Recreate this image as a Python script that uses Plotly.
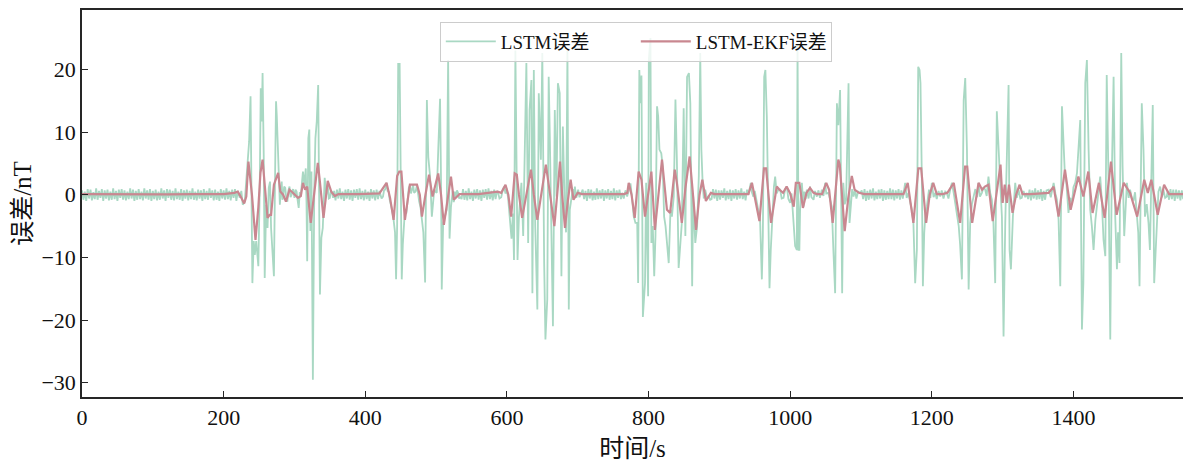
import numpy as np
import plotly.graph_objects as go

# ---------------- data ----------------
# quiet stretches of the LSTM error: start time (s) and values sampled every 2 s
flat_starts = [0, 356, 536, 707, 889, 1101, 1336, 1533]
flat_step = 2
flat_0 = [0.7, -0.8, 0.5, -1.0, 0.9, -0.6, 0.8, -0.9, 0.4, -0.7, 1.0, -0.8, 0.6, -0.5, 0.9, -1.0,
          0.7, -0.6, 0.8, -0.9, 0.5, -0.8, 1.0, -0.7, 0.6, -1.0, 0.8, -0.5, 0.9, -0.8, 0.7, -0.9,
          0.5, -0.7, 1.0, -0.6, 0.8, -1.0, 0.6, -0.8, 0.9, -0.7, 0.5, -0.9, 1.0, -0.6, 0.7, -0.8,
          0.9, -1.0, 0.6, -0.7, 0.8, -0.9, 0.5, -0.8, 1.0, -0.6, 0.7, -1.0, 0.9, -0.5, 0.8, -0.8,
          0.6, -0.9, 1.0, -0.7, 0.5, -0.8, 0.9, -1.0, 0.7, -0.6, 0.8, -0.9, 0.6, -0.7, 1.0, -0.8,
          0.5, -0.9, 0.8, -0.6, 0.7, -1.0, 0.9, -0.7, 0.6, -0.8, 1.0, -0.5, 0.7, -0.9, 0.8, -0.8,
          0.5, -1.0, 0.9, -0.6, 0.7, -0.8, 1.0, -0.7, 0.6, -0.9, 0.8, -0.5, 0.9, -1.0, 0.6]
flat_1 = [0.6, -0.9, 0.8, -0.6, 1.0, -0.7, 0.5, -1.0, 0.8, -0.6, 0.9, -0.8, 0.7, -1.0, 0.8, -0.5,
          0.9, -0.8, 1.0, -0.7, 0.6, -0.9, 0.8, -0.7, 0.5, -1.0, 0.9, -0.6, 0.7, -0.9, 0.8, -0.7, 0.6]
flat_2 = [-0.7, 0.9, -0.8, 0.6, -0.9, 1.0, -0.7, 0.5, -1.0, 0.8, -0.6, 0.9, -0.8, 0.7, -1.0, 0.8,
          -0.5, 0.9, -0.8, 1.0, -0.7, 0.6, -0.9, 0.8, -0.7, 0.6]
flat_3 = [0.8, -0.7, 0.6, -1.0, 0.9, -0.6, 0.8, -0.9, 0.5, -0.8, 1.0, -0.7, 0.7, -0.6, 0.9, -1.0,
          0.7, -0.6, 0.9, -0.8, 0.6, -0.7, 1.0, -0.9, 0.7, -0.5, 0.8, -0.7]
flat_4 = [-0.7, 0.9, -0.6, 0.8, -1.0, 0.7, -0.8, 0.7, -0.5, 1.0, -0.9, 0.6, -0.7, 0.8, -1.0, 0.7,
          -0.6, 0.9, -0.8, 0.7, -0.6, 1.0, -0.7, 0.5, -0.9, 0.8]
flat_5 = [0.7, -0.7, 0.9, -1.0, 0.6, -0.8, 0.8, -0.6, 1.0, -0.9, 0.5, -0.7, 0.8, -0.6, 0.9, -1.0,
          0.7, -0.8, 0.6, -0.7, 1.0, -0.7, 0.8, -0.9, 0.7, -0.6, 0.9, -0.8, 0.7, -0.6]
flat_6 = [-0.7, 0.8, -0.9, 0.7, -0.6, 1.0, -0.8, 0.7, -0.7, 0.9, -1.0, 0.6, -0.8, 0.7]
flat_7 = [0.6, -0.8, 0.9, -0.7, 0.8, -1.0, 0.8, -0.6, 0.7, -0.9, 0.7, -0.7]
flat_segments = [flat_0, flat_1, flat_2, flat_3, flat_4, flat_5, flat_6, flat_7]

# active stretches of the LSTM error: [time s, error nT]
burst_a = [[222.7, -0.5], [225, 0.6], [227, -1.6], [229.8, -1.1], [232, 2.1], [234.5, 6.4], [236, 8.5],
           [238, 15.7], [239, 3.7], [240.6, -14.1], [242.5, -7.4], [244, -9.6], [246, -7.4], [249, -11.4],
           [251, 1.1], [252.4, 17], [253.8, 11.7], [255, 19.4], [256.6, 6.4], [258, -13.3], [260, -1.6],
           [262, -5.3], [263.7, 1.1], [265.5, 2.1], [267, -5.3], [269, -9.6], [271, -13], [273, 6.4],
           [274, 14.9], [275, 12.7], [277, 6.4], [279.4, -1.6], [281, 1.2], [282, 2.1], [283, -0.8],
           [284, -0.5], [285.5, 1.3], [287, 1.1], [288.5, -0.6], [290, -1.1], [291.5, 0.7], [293, 1.3],
           [294.5, -0.4], [296, 0], [298, 0.9], [300, -0.5], [301.5, 0.8], [303, 0.5], [304.5, -0.9],
           [306, -2.1], [307.5, 0.4], [309, 0], [310.5, 1.8], [312, 3.7], [314, 1.6], [316, 4.2],
           [317, -1.1], [318, -10.6], [319.6, 9], [321, 10.4], [322.5, -5.8], [324, 3.7], [326, -29.5],
           [328, 1.1], [329.6, 9], [331.5, 11.7], [333.5, 17.5], [335, -4.2], [336, -15.9], [338, -6.9],
           [340, -5.3], [342.7, 2.7], [345, 0], [347, 1.6], [348.5, -0.6], [350, -0.5], [351.5, 0.7],
           [353, 0.4], [354.5, -0.5]]
burst_b = [[421, 0.3], [423, -0.6], [425, -0.3], [426.5, 0.7], [428, 0.8], [430, 1.9], [431.5, 0.6],
           [433, 0.5], [434.5, -0.8], [436, -1.5], [438, -2.5], [440, -4], [442, -6], [443.5, -13.5],
           [445, -5], [446.5, 21], [447.5, 17], [448.5, 21], [450, 2], [451.5, -13.5], [453, -8],
           [454, -6.6], [456, -2.4], [458, -3], [460, 0], [461.5, 1.1], [463, 1.5], [464.5, 0.2],
           [466, 0.8], [467.5, 1.6], [469, 0.3], [471, 0.5], [473, 1.5], [474.5, 0.1], [476, -1],
           [478, -2], [480, -4.5], [482, -6], [484.5, -14], [486, 2], [487, 15.1], [489, 6], [491.5, 2.9],
           [494, -3.5], [496, -0.8], [497.5, 0.9], [499, 0.5], [501, 0.3], [503, 7], [505.6, 15.3],
           [507, 2], [508, -15.1], [510, -4.5], [512, -3.5], [515, -2.4], [517, 21.5], [518, 5],
           [519, -7], [521, -2], [522, -0.8], [523.5, 0.6], [525, -1.2], [526.5, 0.5], [528, -0.5],
           [529.5, 0.7], [531, 0.3], [532.5, -0.6], [534, -0.3]]
burst_c = [[587.6, 0.3], [589.5, -0.6], [592, -0.4], [594, 0.7], [596, 1.3], [598, 0.2], [599.5, 1.0],
           [601.7, -0.5], [604, -4.5], [606.5, -7], [608.5, -3], [610, -10.4], [612, 23], [613.5, 5],
           [615, -10.4], [617, -3.5], [620.5, 1.9], [623, -6.6], [625, 9.3], [627.5, 21], [630, -7.7],
           [632, 13.5], [634.6, 18.3], [636, -15.7], [638, 19.9], [640, -5], [643, -18.3], [645, 16.2],
           [648, 5.6], [650, 22.6], [652.6, -10.9], [654.4, -23.1], [657, -16.7], [659, 18.8],
           [660.6, 9.3], [663, -6.6], [665, -21], [667.6, 13.5], [670, -0.3], [672, 17.8], [674.6, 16.2],
           [677, -13], [679, 10.9], [681.7, -2.4], [683.5, -6], [685.5, 23], [687.4, -18.3],
           [688.8, -2.4], [691, -0.3], [693, 0.9], [694.5, -0.6], [696, 1.3], [698, -0.5], [700.6, 0.8],
           [702.5, -0.4], [705, 0.3]]
burst_d = [[762.7, 0.3], [765, -0.6], [767.5, 0.7], [769.8, -0.3], [772, 0.9], [774.5, 1.8], [777, -0.8],
           [779, -3.4], [781.5, -4.5], [784, -4.5], [785.3, -14.1], [787, 19.9], [788.6, 14.6], [790, 19],
           [792, -19.5], [793.4, -15.7], [795, -14.1], [796.6, 1.9], [799.4, -16.2], [800.4, 21.5],
           [802.7, 25], [804, -7.7], [806, -5], [808, -13], [809.8, -6.6], [812, 14.1], [813.6, 12.5],
           [815.4, 7.2], [818, 6.6], [820, 4.5], [822, -3.5], [824, -5], [826, -7.7], [828.5, -10.9],
           [831, -2.4], [833, -3.5], [835.6, -0.3], [838, 15.2], [840, 5.6], [842.5, -11.7], [845, -7.7],
           [847, -4.5], [849.6, 13.8], [852, -6.6], [854.4, 18.8], [857, 19.4], [859, 14.6],
           [861.6, -14.6], [863, -0.3], [866, -7.7], [868.6, -5], [871, 3], [873, 22.6], [874.6, 7.2],
           [876.4, 1.9], [878, -0.6], [880, 0.8], [882.5, -0.5], [885, -0.3], [887, -0.8]]
burst_e = [[941, 0], [942.5, 0.7], [944.4, 1.9], [946, 0.4], [948, -0.3], [950, 0.6], [952.5, -1.0],
           [955, -2.4], [957.5, -4], [960, -13.5], [961.4, -6.6], [963.3, 18.8], [965, 19.9], [967, 12.5],
           [969.4, -8.8], [970.8, -14.9], [972.6, -8.8], [975.5, -0.3], [977, 1.2], [978.8, 2.9],
           [981, 0.2], [983.5, 0.8], [985.9, 0.8], [988, -0.6], [990.6, -0.5], [993, 0.9], [995.3, 1.3],
           [997.5, -0.7], [1000, -1.3], [1002, 0.2], [1004.7, -4.5], [1007, -8.2], [1009.4, -8.8],
           [1010.4, 24], [1011.8, -8.8], [1013, -8.8], [1014, -2.4], [1016.5, 1.9], [1018.8, -1.9],
           [1020, 0.5], [1021.8, -0.7], [1023.5, 0.8], [1026, -0.6], [1028, 1.3], [1030, -0.4],
           [1033, -0.8], [1035, 0.6], [1037.7, -0.3], [1040, 0.7], [1042, -0.5], [1044.7, 0.8],
           [1047, -0.2], [1049.4, 1.9], [1051, 0.2], [1054, 0.3], [1056, -0.5], [1058.8, -1.9],
           [1061, -8.8], [1063.5, -15.7], [1066, 14.6], [1068, 11.1], [1070.5, 16.7], [1072, -3.5],
           [1073.4, -15.7], [1075, 1.9], [1077, -1.5], [1079, -0.8], [1082.4, 17.8], [1083.8, -4.5],
           [1085.6, -1.3], [1087.5, 0.9], [1089.5, -0.3], [1091.5, 0.8], [1093.5, -0.6], [1096, 0.5],
           [1098.9, 0.3]]
burst_f = [[1162.4, 1.9], [1164.5, -0.5], [1167, 0.3], [1169.5, -1.2], [1172, -2.5], [1174, -4.5],
           [1176.5, -14.1], [1178.9, -8.8], [1180.8, 20.4], [1182.7, 19.9], [1184, 17.8], [1186, 1.9],
           [1187.4, -14.6], [1189.3, -6.1], [1191, -3], [1193, -1.9], [1196, 0.8], [1198, -0.5],
           [1200, 1.9], [1202.5, -0.4], [1204.8, 0.3], [1207, -0.7], [1209.5, 0.6], [1211.9, -0.3],
           [1214, 0.7], [1216.5, -0.6], [1219, 0.5], [1221, 0.3], [1223.5, -0.6], [1226, 0.8],
           [1228.4, 1.9], [1231, 0.2], [1233, -1.5], [1235.5, -3.5], [1238, -5], [1240, -8],
           [1242.5, -13.5], [1245, 15.1], [1247.2, 18.6], [1249.6, 7.2], [1252, -15.1], [1254.2, -4.5],
           [1256.6, -1.5], [1259, -0.3], [1261.5, 0.9], [1264, -0.4], [1266, 1.9], [1268, -0.3],
           [1270.7, 0.3], [1273, 1.2], [1275.4, 0.8], [1277.5, -0.2], [1280, 2.9], [1282.5, 0.3],
           [1284.8, -0.8], [1287, -4.5], [1289.5, -14.1], [1291.8, 13.3], [1294, 7.2], [1296.6, 1.9],
           [1299, -3.5], [1301.3, -22.6], [1303.7, -4.5], [1306, 7.2], [1308.4, 17.5], [1309.8, -8.8],
           [1311.7, -11.9], [1314.5, -3.5], [1317.8, 1.9], [1320, -0.5], [1322.5, 0.8], [1325, -0.6],
           [1327, -0.5], [1329.5, 0.6], [1332, -0.4], [1334, 0.3]]
burst_g = [[1365, 0.8], [1368, -0.4], [1370, 0.9], [1372, 1.9], [1374.5, 0.2], [1376.7, -0.8], [1379, -4],
           [1381.4, -14.6], [1383.8, 14.1], [1386, 7.2], [1388, 3], [1390, 1.9], [1393, -2.9],
           [1395.5, -0.5], [1398, -1.3], [1400, 1.2], [1402.5, 1.9], [1405, 3.5], [1407, 7.2],
           [1409.6, 11.9], [1412, -21.5], [1414, -14.1], [1416.7, 17.8], [1419, 21.5], [1421.4, 7.2],
           [1423.7, -2.4], [1426, -5], [1428.4, -8.8], [1431, -4], [1433, -1.9], [1435.5, 1.5],
           [1437.8, 2.9], [1440, -0.8], [1442.5, -7.2], [1445, -9.8], [1447, 19.1], [1449.6, 1.9],
           [1452, -23.1], [1454, 1.9], [1456.7, 18.8], [1459, -3.5], [1461.4, -11.9], [1463, -6],
           [1465, -10.9], [1467.5, 22.6], [1469.4, 4.5], [1471.7, -6.6], [1473.5, -2], [1475.5, 1.9],
           [1478, -0.5], [1480, 0.8], [1482.5, -0.6], [1485, -0.8], [1487, 0.4], [1489.5, -3.5],
           [1491.5, -6], [1493.3, -14.6], [1496.5, 14.6], [1498.9, 7.2], [1501, -3.5], [1503.5, -1.5],
           [1506, -4.5], [1508, -8.8], [1512, 14.3], [1514, -14.1], [1517.6, -4.5], [1520, 0.5],
           [1522.4, 1.3], [1525, -0.4], [1527, 0.8], [1529.5, -0.5], [1531.8, -0.3]]
bursts = [burst_a, burst_b, burst_c, burst_d, burst_e, burst_f, burst_g]

# LSTM-EKF error: [time s, error nT]
ekf_points = [[0, 0.1], [40, 0.05], [80, 0.1], [120, 0.05], [160, 0.1], [200, 0.1], [215, 0.3], [220, 0.5],
              [224, -0.3], [229, -1.4], [232, -0.3], [235, 5.3], [240, 0], [245, -7.2], [249, -2], [252, 3.5],
              [255, 5.6], [258, 2], [262, -3.7], [265, -3.2], [267, -3.2], [271, 1.6], [277, 3.5], [280, 0.5],
              [284, 0], [288, -1.1], [293, 0.8], [297, 0.4], [305, -0.5], [309, -0.2], [312, 1.9], [315, 0.8],
              [318, 1.3], [323, -4.5], [328, 0.5], [333, 5.1], [336, 2], [341, -3.7], [347, 2.2], [352, 0.5],
              [357, -0.2], [362, 0.1], [390, 0.1], [420, 0.2], [430, 1.9], [435, -0.5], [440, -4], [445, 3],
              [448, 3.7], [451, 3.7], [456, -4], [460, -0.5], [463, 1.6], [468, 1.6], [473, 1.6], [477, 0],
              [480, -3.5], [485, 0], [490, 3.2], [495, -0.3], [503, 3.4], [507, 0], [511, -4.8], [516, -1],
              [521, 2.9], [525, -0.8], [529, -0.3], [533, 0.1], [560, 0.1], [587, 0.5], [592, 0.3], [598, 1.6],
              [602, 0], [606, -3.5], [611, 3.4], [614, 3.2], [617, 0], [621.5, -3.7], [627, -0.3], [634, 4],
              [638, 0], [643, -4], [648, -0.3], [655, 4.8], [661, 0], [667, -5], [671, 0], [675, 5.3], [678, 0],
              [682, -5.3], [686, -1], [690, 2.4], [694, -0.8], [700, 0.3], [706, 0.1], [735, 0.1], [765, 0.1],
              [770, 0.3], [772, 1.9], [776, 0], [780.5, -3.7], [786, 3.7], [790, 2.4], [795, -3.5], [799, 0],
              [804, 3.7], [809, -5.6], [814, 0], [819, 5.6], [823, 1], [826, -2.4], [830.5, -2.9], [834, 1],
              [837, 4], [840, 1.9], [844, -2], [847, -4.5], [852, 1], [858, 6.1], [862, 1], [867, -5.6],
              [872, 0], [876, 2.4], [881, -1], [888, 0.3], [893, 0.1], [915, 0.1], [941, 0.1], [946, 1.9],
              [950, -0.3], [956.6, -4.2], [963, 4.2], [966, 4.2], [973, -4.5], [981, 1.3], [985, 0.8],
              [990, 0.3], [995, 1.3], [1000, 0.2], [1005, -1.9], [1008, 1.9], [1013, 1.9], [1018, -2.1],
              [1023, 0.3], [1028, 1.1], [1033, 0.3], [1038, 0.1], [1045, 0.1], [1051, 1.9], [1055, 0.8],
              [1060, -4.5], [1068, 5.6], [1070, 4.8], [1077, -5.8], [1082, -0.5], [1087, 3], [1091, 0.8],
              [1097, 0.3], [1105, 0.1], [1135, 0.1], [1160, 0.1], [1166, 1.9], [1174, -4.5], [1181, 4.2],
              [1185, 4.2], [1192, -4.5], [1197, 0], [1202, 1.9], [1207, 0.1], [1215, 0.1], [1222, 0.3],
              [1231, 1.9], [1240, -4.5], [1247, 4.5], [1250, 4.5], [1257, -4.5], [1266, 1.9], [1271, 0.8],
              [1275, 1.3], [1280, 1.6], [1286, -4.2], [1297, 4.8], [1300, -1.3], [1303, 1.6], [1306, -1.3],
              [1309, 1.6], [1314, -2.9], [1319, 0], [1324, 1.6], [1328, 0.1], [1340, 0.1], [1365, 0.3],
              [1372, 1.3], [1379, -3.5], [1388, 4], [1396, -2.4], [1407, 2.9], [1414, -0.3], [1421, 3.7],
              [1427, -2.9], [1436, 1.9], [1444, -3.7], [1453, 5.3], [1461, -3.2], [1471, 1.9], [1480, 0.3],
              [1490, -3.5], [1500, 2.4], [1505, 0.3], [1510, 2.4], [1519, -3.2], [1528, 1.6], [1535, 0.1],
              [1555, 0.1]]

x_ticks = [0, 200, 400, 600, 800, 1000, 1200, 1400]
y_ticks = [-30, -20, -10, 0, 10, 20]
series_names = ["LSTM误差", "LSTM-EKF误差"]
x_title = "时间/s"
y_title = "误差/nT"

# ---------------- assemble ----------------
lstm_t, lstm_v = [], []
for start, seg in zip(flat_starts, flat_segments):
    lstm_t += [start + i * flat_step for i in range(len(seg))]
    lstm_v += seg
for b in bursts:
    lstm_t += [p[0] for p in b]
    lstm_v += [p[1] for p in b]
order = np.argsort(lstm_t)
lstm_t = np.array(lstm_t)[order]
lstm_v = np.array(lstm_v)[order]

ekf_t = [p[0] for p in ekf_points]
ekf_v = [p[1] for p in ekf_points]

FONT = "Liberation Serif, Noto Sans CJK SC"
AX = "#262626"
TICKFONT = dict(family="Liberation Serif", size=22, color="#111111")

fig = go.Figure()
fig.add_trace(go.Scatter(x=lstm_t, y=lstm_v, mode="lines", name=series_names[0],
                         line=dict(color="#a9d8c3", width=1.8)))
fig.add_trace(go.Scatter(x=ekf_t, y=ekf_v, mode="lines", name=series_names[1],
                         line=dict(color="#c98790", width=2.2)))

fig.update_layout(
    width=1183, height=462,
    margin=dict(l=82, r=0, t=10, b=65),
    paper_bgcolor="white", plot_bgcolor="white",
    font=dict(family=FONT, size=22, color="#111111"),
    showlegend=True,
    legend=dict(orientation="h", x=0.503, xanchor="center", y=0.97, yanchor="top",
                bgcolor="rgba(255,255,255,0.8)", bordercolor="#cccccc", borderwidth=1,
                font=dict(family=FONT, size=19, color="#111111"),
                itemwidth=50, entrywidthmode="pixels", entrywidth=130, tracegroupgap=0),
    xaxis=dict(range=[0, 1554.7], tickmode="array", tickvals=x_ticks, tickfont=TICKFONT,
               ticks="inside", ticklen=6, tickwidth=1.3, tickcolor=AX,
               showline=True, linecolor=AX, linewidth=1.5, mirror=True,
               showgrid=False, zeroline=False,
               title=dict(text=x_title, standoff=13, font=dict(family=FONT, size=25))),
    yaxis=dict(range=[-32.27, 29.47], tickmode="array", tickvals=y_ticks, tickfont=TICKFONT,
               ticks="inside", ticklen=6, tickwidth=1.3, tickcolor=AX,
               showline=True, linecolor=AX, linewidth=1.5, mirror=False,
               showgrid=False, zeroline=False,
               title=dict(text=y_title, standoff=3, font=dict(family=FONT, size=25))),
)

fig.write_html("out.html")
